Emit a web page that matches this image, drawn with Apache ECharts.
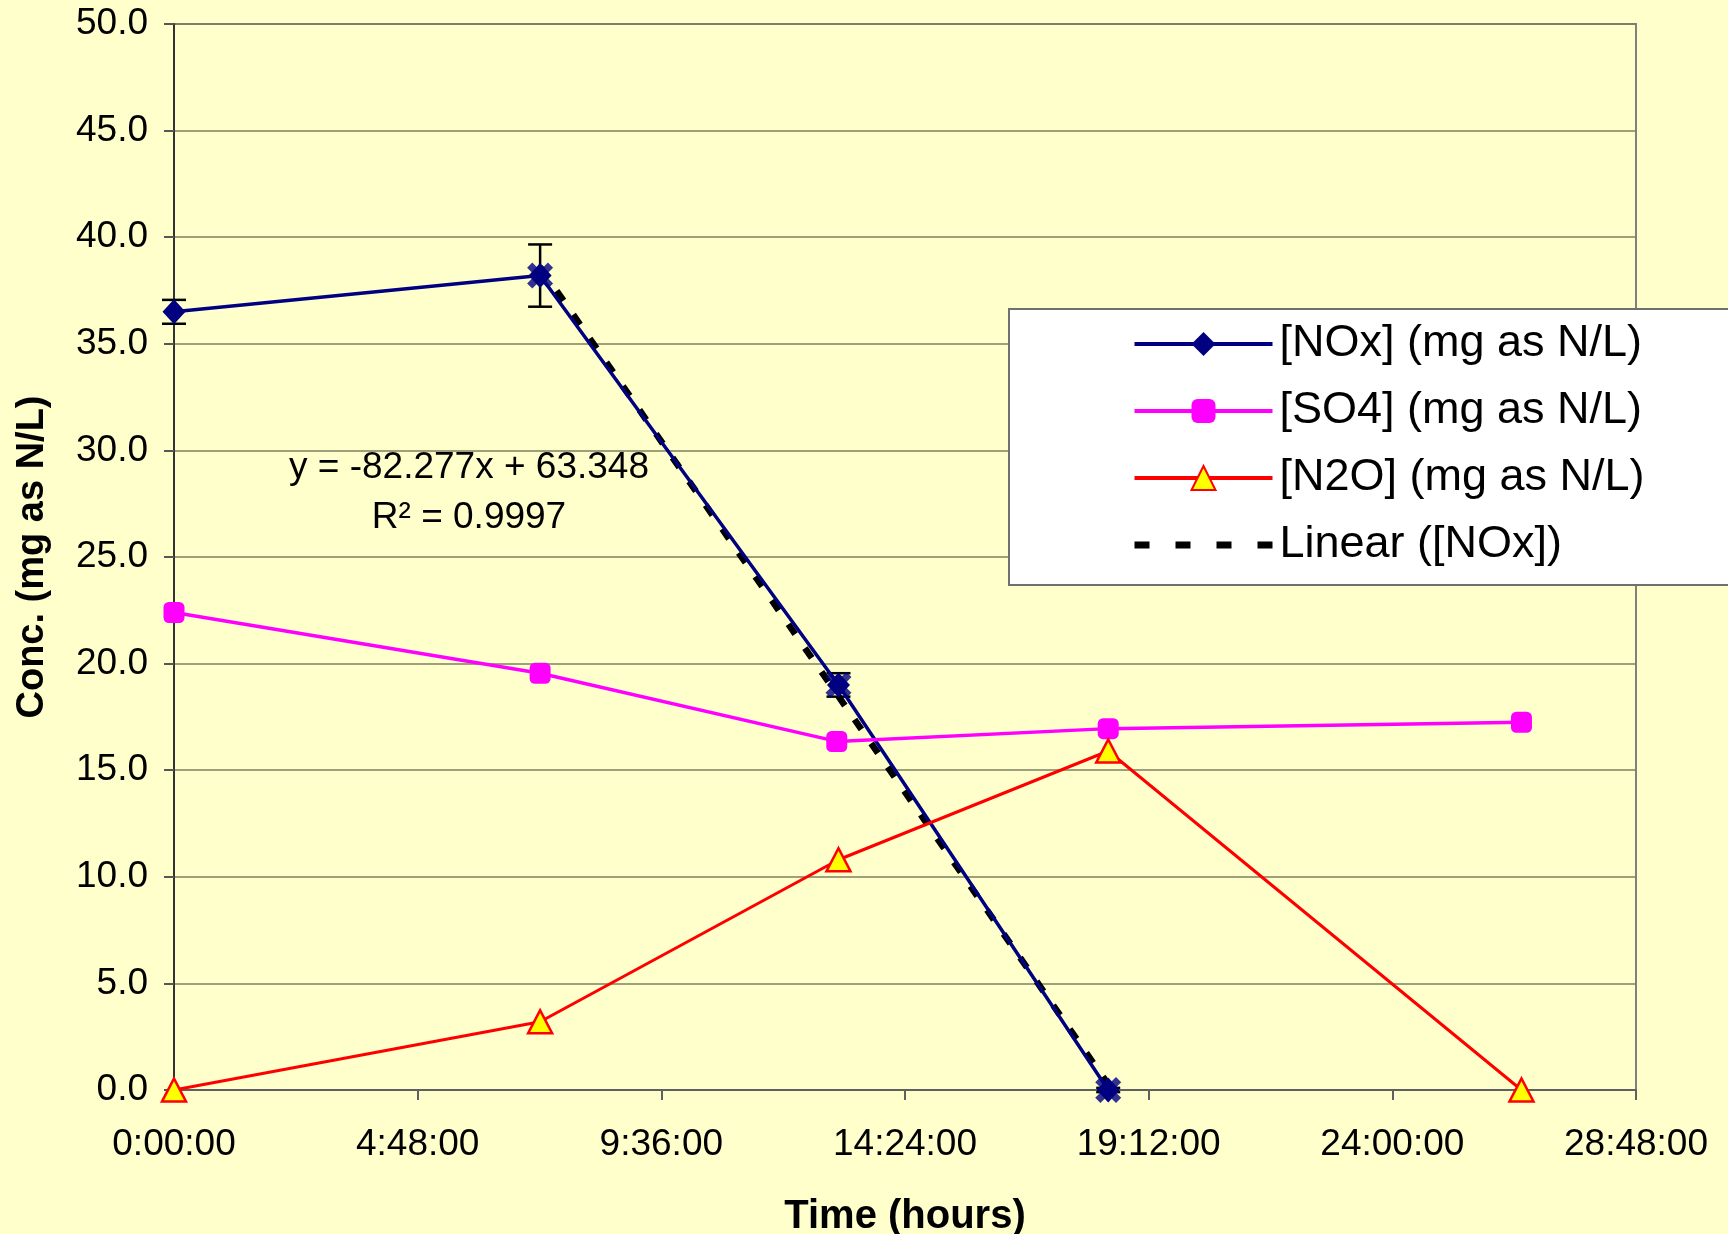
<!DOCTYPE html>
<html>
<head>
<meta charset="utf-8">
<script src="https://cdn.jsdelivr.net/npm/echarts@6/dist/echarts.min.js"></script>
<style>
  html, body { margin: 0; padding: 0; background: #FFFFCC; }
  #chart { width: 1728px; height: 1234px; }
</style>
</head>
<body>
<div id="chart"></div>
<script>
// time in days (axis labelled as h:mm:ss)
const noxTime = [0, 0.3005, 0.5454, 0.7668];
const noxVals = [36.5, 38.2, 19.0, 0.0];
const noxErr = [0.56, 1.46, 0.55, 0.1];

const so4Time = [0, 0.3005, 0.544, 0.7668, 1.106];
const so4Vals = [22.4, 19.55, 16.35, 16.95, 17.25];

const n2oTime = [0, 0.3005, 0.5454, 0.7668, 1.106];
const n2oVals = [0.0, 3.2, 10.8, 15.9, 0.0];

// points used for the fit and the fitted line ends
const fitTime = [0.3005, 0.5454, 0.7668];
const fitVals = [38.2, 19.0, 0.0];
const trendTime = [0.3005, 0.7668];
const trendVals = [38.6, 0.26];

const xTickLabels = ['0:00:00', '4:48:00', '9:36:00', '14:24:00', '19:12:00', '24:00:00', '28:48:00'];
const eqText = 'y = -82.277x + 63.348';
const r2Text = 'R² = 0.9997';

const pairs = (xs, ys) => xs.map((x, i) => [x, ys[i]]);
const font = 'Liberation Sans, Arial, sans-serif';
const xMark = 'path://M0,2 L2,0 L5,3 L8,0 L10,2 L7,5 L10,8 L8,10 L5,7 L2,10 L0,8 L3,5 Z';

const chart = echarts.init(document.getElementById('chart'));
chart.setOption({
  backgroundColor: '#FFFFCC',
  animation: false,
  textStyle: { fontFamily: font },
  grid: {
    left: 174, right: 92, top: 24, bottom: 144,
    outerBoundsMode: 'none', containLabel: false,
    show: true, backgroundColor: '#FFFFCC', borderColor: '#808080', borderWidth: 2
  },
  legend: {
    orient: 'vertical',
    left: 1009, top: 309,
    padding: [9, 300, 14, 122],
    itemWidth: 138, itemHeight: 30, itemGap: 15,
    backgroundColor: '#FFFFFF', borderColor: '#707070', borderWidth: 2,
    lineStyle: { width: 4 },
    textStyle: { fontSize: 45, lineHeight: 52, color: '#000', fontFamily: font, padding: [0, 0, 0, 2] },
    data: [
      '[NOx] (mg as N/L)',
      '[SO4] (mg as N/L)',
      '[N2O] (mg as N/L)',
      { name: 'Linear ([NOx])', lineStyle: { width: 7, type: [15, 26] } }
    ]
  },
  xAxis: {
    type: 'value', min: 0, max: 1.2, interval: 0.2,
    name: 'Time (hours)', nameLocation: 'middle', nameGap: 107,
    nameTextStyle: { fontSize: 40, fontWeight: 'bold', color: '#000', fontFamily: font },
    axisLine: { lineStyle: { color: '#606060', width: 2 } },
    axisTick: { show: true, length: 10, lineStyle: { color: '#606060', width: 2 } },
    axisLabel: {
      fontSize: 37, color: '#000', margin: 36,
      formatter: v => xTickLabels[Math.round(v / 0.2)]
    },
    splitLine: { show: false }
  },
  yAxis: {
    type: 'value', min: 0, max: 50, interval: 5,
    name: 'Conc. (mg as N/L)', nameLocation: 'middle', nameGap: 122,
    nameTextStyle: { fontSize: 38, fontWeight: 'bold', color: '#000', fontFamily: font },
    axisLine: { show: true, lineStyle: { color: '#333', width: 2 } },
    axisTick: { show: true, length: 10, lineStyle: { color: '#555', width: 2 } },
    axisLabel: { fontSize: 37, color: '#000', margin: 26, formatter: v => v.toFixed(1) },
    splitLine: { lineStyle: { color: '#7F7F62', width: 1.5 } }
  },
  graphic: [
    { type: 'text', x: 469, y: 468, z: 10, style: { text: eqText, fill: '#000', font: '37px ' + font, align: 'center', verticalAlign: 'middle' } },
    { type: 'text', x: 469, y: 518, z: 10, style: { text: r2Text, fill: '#000', font: '37px ' + font, align: 'center', verticalAlign: 'middle' } }
  ],
  series: [
    {
      name: 'Linear ([NOx])',
      type: 'line',
      data: pairs(trendTime, trendVals),
      symbol: 'circle', showSymbol: false,
      z: 1,
      lineStyle: { color: '#000', width: 6.5, type: [12, 17] },
      itemStyle: { color: 'rgba(0,0,0,0)' }
    },
    {
      name: 'errors',
      type: 'custom',
      z: 2,
      data: noxTime.map((t, i) => [t, noxVals[i] - noxErr[i], noxVals[i] + noxErr[i]]),
      renderItem: (params, api) => {
        const x = api.value(0);
        const lo = api.coord([x, api.value(1)]);
        const hi = api.coord([x, api.value(2)]);
        const hw = 12;
        const st = { stroke: '#000', lineWidth: 2.5 };
        return {
          type: 'group',
          children: [
            { type: 'line', shape: { x1: hi[0], y1: hi[1], x2: lo[0], y2: lo[1] }, style: st },
            { type: 'line', shape: { x1: hi[0] - hw, y1: hi[1], x2: hi[0] + hw, y2: hi[1] }, style: st },
            { type: 'line', shape: { x1: lo[0] - hw, y1: lo[1], x2: lo[0] + hw, y2: lo[1] }, style: st }
          ]
        };
      }
    },
    {
      name: '[NOx] (mg as N/L)',
      type: 'line',
      data: pairs(noxTime, noxVals),
      symbol: 'diamond', symbolSize: [23, 25],
      z: 3,
      lineStyle: { color: '#000080', width: 3.5 },
      itemStyle: { color: '#000080' }
    },
    {
      name: 'fit points',
      type: 'scatter',
      data: pairs(fitTime, fitVals),
      symbol: xMark, symbolSize: 26,
      z: 4,
      itemStyle: { color: '#000080' }
    },
    {
      name: '[SO4] (mg as N/L)',
      type: 'line',
      data: pairs(so4Time, so4Vals),
      symbol: 'roundRect', symbolSize: 21,
      z: 3,
      lineStyle: { color: '#FF00FF', width: 3.5 },
      itemStyle: { color: '#FF00FF' }
    },
    {
      name: '[N2O] (mg as N/L)',
      type: 'line',
      data: pairs(n2oTime, n2oVals),
      symbol: 'triangle', symbolSize: [24, 23],
      z: 3,
      lineStyle: { color: '#FF0000', width: 3 },
      itemStyle: { color: '#FFFF00', borderColor: '#FF0000', borderWidth: 2.5 }
    }
  ]
});
</script>
</body>
</html>
